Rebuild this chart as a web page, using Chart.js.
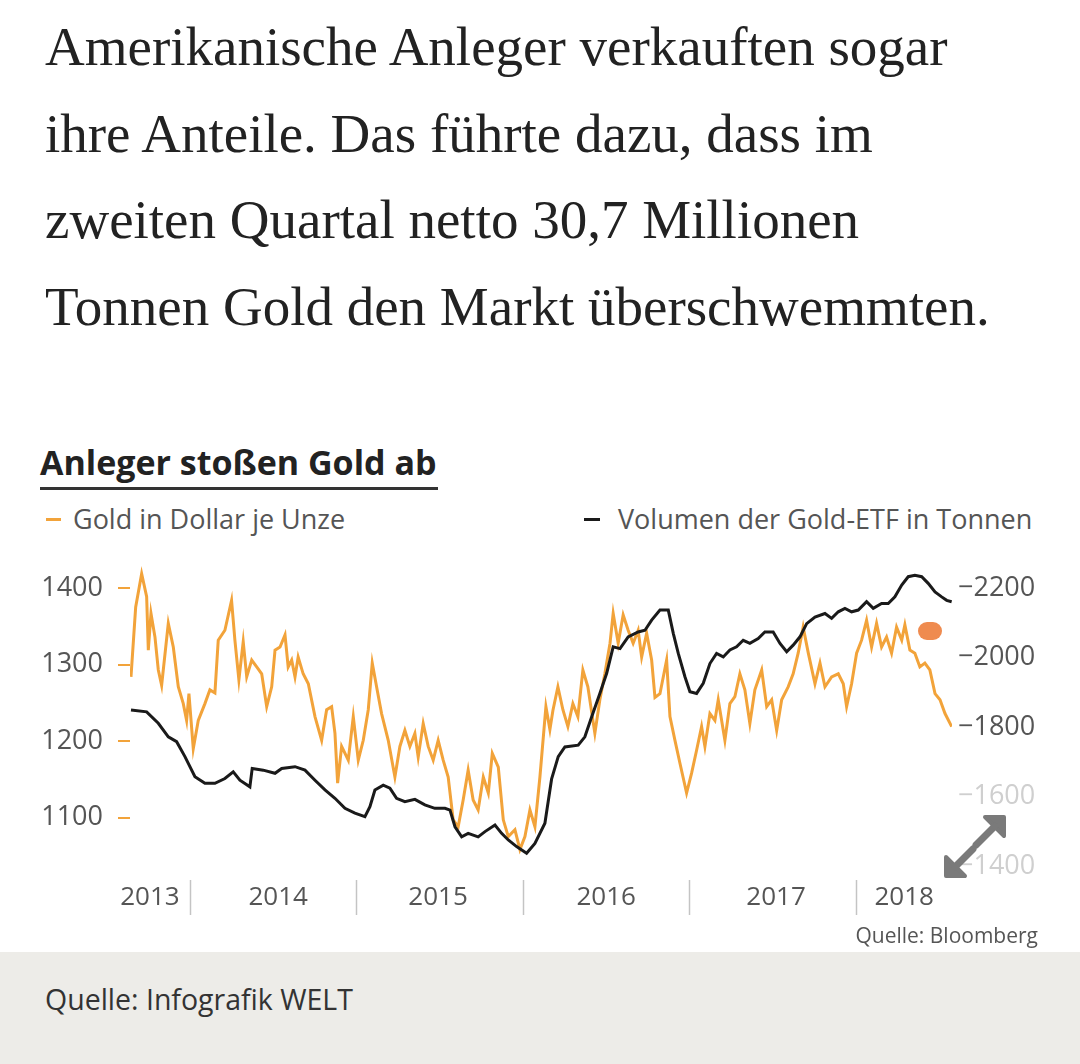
<!DOCTYPE html>
<html lang="de">
<head>
<meta charset="utf-8">
<title>Anleger stoßen Gold ab</title>
<script src="https://cdn.jsdelivr.net/npm/chart.js@4.4.1/dist/chart.umd.min.js"></script>
<style>
  html, body { margin: 0; padding: 0; background: #fff; }
  #page { position: relative; width: 1080px; height: 1064px; overflow: hidden; background: #fff; }
  .abs { position: absolute; white-space: nowrap; }
  #lead { left: 45px; top: 4px; font-family: "Liberation Serif", serif; font-size: 55px; line-height: 86.5px; color: #222; }
  #title { left: 40px; top: 440px; font-family: "Open Sans", sans-serif; font-weight: 700; font-size: 34px; line-height: 44px; color: #222; }
  #rule { left: 40px; top: 487px; width: 398px; height: 3px; background: #333; }
  .leg { top: 504px; font-family: "Open Sans", sans-serif; font-size: 27px; line-height: 30px; color: #555; }
  .leg i { display: inline-block; width: 15px; height: 3px; vertical-align: middle; position: relative; top: -2px; }
  #chartWrap { left: 0; top: 529px; width: 1080px; height: 421px; }
  #src { right: 42px; top: 923px; font-family: "Open Sans", sans-serif; font-size: 21px; line-height: 24px; color: #555; }
  #footer { left: 0; top: 952px; width: 1080px; height: 112px; background: #edece8; }
  #footer span { position: absolute; left: 45px; top: 31px; font-family: "Open Sans", sans-serif; font-size: 28.5px; line-height: 32px; color: #333; }
  #blob { left: 918px; top: 622px; width: 24px; height: 18px; border-radius: 9px; background: #ef8b4f; }
  #expand { left: 940px; top: 810px; }
</style>
</head>
<body>
<div id="page">
  <div id="lead" class="abs">Amerikanische Anleger verkauften sogar<br>ihre Anteile. Das führte dazu, dass im<br>zweiten Quartal netto 30,7 Millionen<br>Tonnen Gold den Markt überschwemmten.</div>

  <div id="title" class="abs">Anleger stoßen Gold ab</div>
  <div id="rule" class="abs"></div>
  <div class="abs leg" style="left:46px"><i style="background:#f2a33a;margin-right:12px"></i>Gold in Dollar je Unze</div>
  <div class="abs leg" style="left:584px"><i style="background:#1a1a1a;width:16px;margin-right:18px"></i>Volumen der Gold-ETF in Tonnen</div>

  <div id="chartWrap" class="abs"><canvas id="chart" width="1080" height="421"></canvas></div>

  <div id="blob" class="abs"></div>
  <svg id="expand" class="abs" width="70" height="72" viewBox="940 810 70 72">
    <g fill="#7a7a7a" stroke="#7a7a7a" stroke-linejoin="round" stroke-linecap="round">
      <polygon points="1004,817 985,817 1004,836" stroke-width="4"/>
      <line x1="995" y1="826" x2="976" y2="845" stroke-width="7"/>
      <polygon points="946,876 946,857 965,876" stroke-width="4"/>
      <line x1="955" y1="867" x2="973" y2="849" stroke-width="7"/>
    </g>
  </svg>

  <div id="src" class="abs">Quelle: Bloomberg</div>
  <div id="footer" class="abs"><span>Quelle: Infografik WELT</span></div>
</div>

<script>
// Goldpreis (Dollar je Unze), Zeit als Dezimaljahr
var GOLD_T = [
  2013.646, 2013.674, 2013.710, 2013.740, 2013.750, 2013.766, 2013.790, 2013.810, 2013.830, 2013.870,
  2013.900, 2013.930, 2013.960, 2013.980, 2013.994, 2014.020, 2014.050, 2014.090, 2014.120, 2014.150,
  2014.170, 2014.210, 2014.250, 2014.270, 2014.294, 2014.320, 2014.341, 2014.371, 2014.401, 2014.431,
  2014.461, 2014.491, 2014.511, 2014.541, 2014.571, 2014.590, 2014.611, 2014.631, 2014.650, 2014.680,
  2014.711, 2014.751, 2014.791, 2014.821, 2014.851, 2014.871, 2014.887, 2014.911, 2014.951, 2014.981,
  2015.011, 2015.041, 2015.071, 2015.095, 2015.121, 2015.151, 2015.191, 2015.231, 2015.261, 2015.291,
  2015.321, 2015.351, 2015.371, 2015.401, 2015.431, 2015.461, 2015.491, 2015.521, 2015.551, 2015.581,
  2015.611, 2015.641, 2015.671, 2015.701, 2015.731, 2015.762, 2015.792, 2015.816, 2015.852, 2015.882,
  2015.912, 2015.952, 2015.982, 2016.012, 2016.042, 2016.072, 2016.102, 2016.138, 2016.162, 2016.180,
  2016.210, 2016.240, 2016.270, 2016.300, 2016.330, 2016.360, 2016.390, 2016.432, 2016.462, 2016.492,
  2016.523, 2016.542, 2016.572, 2016.602, 2016.632, 2016.662, 2016.692, 2016.713, 2016.743, 2016.773,
  2016.793, 2016.823, 2016.863, 2016.883, 2016.913, 2016.943, 2016.983, 2017.013, 2017.043, 2017.073,
  2017.093, 2017.123, 2017.153, 2017.173, 2017.213, 2017.243, 2017.273, 2017.303, 2017.333, 2017.363,
  2017.393, 2017.434, 2017.464, 2017.494, 2017.524, 2017.554, 2017.593, 2017.623, 2017.653, 2017.683,
  2017.714, 2017.754, 2017.784, 2017.814, 2017.854, 2017.894, 2017.924, 2017.944, 2017.974, 2018.004,
  2018.034, 2018.064, 2018.094, 2018.124, 2018.154, 2018.184, 2018.214, 2018.244, 2018.275, 2018.294,
  2018.324, 2018.354, 2018.384, 2018.414, 2018.444, 2018.475, 2018.505, 2018.535, 2018.575
];
var GOLD_USD = [
  1284, 1375, 1419, 1389, 1319, 1367, 1336, 1293, 1273, 1354,
  1323, 1271, 1249, 1227, 1262, 1190, 1227, 1249, 1267, 1263,
  1332, 1345, 1384, 1332, 1280, 1330, 1284, 1306, 1297, 1288,
  1245, 1271, 1319, 1323, 1339, 1297, 1306, 1284, 1310, 1288,
  1275, 1232, 1201, 1241, 1245, 1210, 1145, 1193, 1175, 1232,
  1175, 1201, 1241, 1302, 1271, 1236, 1201, 1153, 1193, 1214,
  1193, 1210, 1179, 1223, 1193, 1175, 1201, 1175, 1153, 1097,
  1088, 1123, 1162, 1123, 1110, 1153, 1132, 1184, 1166, 1097,
  1075, 1084, 1058, 1075, 1110, 1088, 1153, 1245, 1215, 1240,
  1271, 1241, 1219, 1249, 1232, 1293, 1271, 1210, 1254, 1288,
  1328, 1367, 1328, 1365, 1345, 1328, 1345, 1310, 1341, 1306,
  1257, 1262, 1306, 1232, 1201, 1171, 1132, 1158, 1188, 1219,
  1193, 1236, 1227, 1254, 1201, 1249, 1258, 1288, 1267, 1223,
  1267, 1293, 1245, 1254, 1214, 1254, 1271, 1288, 1315, 1349,
  1315, 1275, 1302, 1271, 1284, 1288, 1275, 1245, 1275, 1315,
  1332, 1358, 1323, 1354, 1323, 1336, 1315, 1349, 1332, 1352,
  1319, 1315, 1297, 1302, 1293, 1262, 1254, 1236, 1219
];

// Volumen der Gold-ETF (Tonnen)
var ETF_T = [
  2013.646, 2013.740, 2013.810, 2013.870, 2013.920, 2013.970, 2014.030, 2014.090, 2014.150, 2014.210,
  2014.260, 2014.300, 2014.360, 2014.374, 2014.440, 2014.511, 2014.551, 2014.631, 2014.691, 2014.751,
  2014.811, 2014.871, 2014.931, 2014.991, 2015.051, 2015.081, 2015.111, 2015.161, 2015.201, 2015.241,
  2015.291, 2015.351, 2015.411, 2015.471, 2015.532, 2015.562, 2015.592, 2015.632, 2015.671, 2015.731,
  2015.772, 2015.832, 2015.872, 2015.912, 2015.962, 2016.022, 2016.072, 2016.132, 2016.172, 2016.212,
  2016.252, 2016.332, 2016.372, 2016.413, 2016.462, 2016.503, 2016.542, 2016.583, 2016.632, 2016.692,
  2016.733, 2016.773, 2016.823, 2016.873, 2016.903, 2016.933, 2016.973, 2017.003, 2017.043, 2017.083,
  2017.123, 2017.163, 2017.203, 2017.243, 2017.283, 2017.323, 2017.363, 2017.413, 2017.453, 2017.503,
  2017.544, 2017.584, 2017.623, 2017.664, 2017.704, 2017.754, 2017.814, 2017.854, 2017.894, 2017.934,
  2017.974, 2018.014, 2018.064, 2018.104, 2018.154, 2018.194, 2018.234, 2018.275, 2018.314, 2018.354,
  2018.395, 2018.434, 2018.475, 2018.515, 2018.545, 2018.575
];
var ETF_TONNES = [
  1849, 1844, 1811, 1772, 1758, 1715, 1657, 1638, 1638, 1652,
  1671, 1647, 1628, 1681, 1676, 1667, 1681, 1686, 1676, 1647,
  1619, 1595, 1566, 1552, 1542, 1571, 1619, 1633, 1624, 1595,
  1585, 1592, 1576, 1566, 1566, 1561, 1513, 1484, 1494, 1484,
  1499, 1518, 1494, 1475, 1456, 1437, 1465, 1523, 1650, 1715,
  1743, 1748, 1772, 1830, 1897, 1955, 2031, 2026, 2060, 2074,
  2079, 2108, 2137, 2137, 2070, 2012, 1945, 1902, 1897, 1926,
  1983, 2012, 2002, 2022, 2031, 2050, 2041, 2055, 2074, 2074,
  2041, 2017, 2036, 2060, 2098, 2117, 2127, 2113, 2132, 2142,
  2132, 2137, 2161, 2142, 2156, 2156, 2175, 2209, 2233, 2237,
  2233, 2214, 2189, 2175, 2165, 2161
];

// Achsen
var YEAR_LABELS = ['2013', '2014', '2015', '2016', '2017', '2018'];
var YEAR_LABEL_POS = [2013.76, 2014.53, 2015.49, 2016.50, 2017.52, 2018.29];
var YEAR_BREAKS = [2014, 2015, 2016, 2017, 2018];
var GOLD_TICKS = [1100, 1200, 1300, 1400];
var ETF_TICKS = [1400, 1600, 1800, 2000, 2200];

var GOLD_COLOR = '#f2a33a';
var ETF_COLOR = '#1a1a1a';
var X_FONT = { family: '"Open Sans", sans-serif', size: 26 };
var Y_FONT = { family: '"Open Sans", sans-serif', size: 27 };

function points(ts, vs) {
  return ts.map(function (t, i) { return { x: t, y: vs[i] }; });
}

// kurze graue Trennstriche zwischen den Jahren, unterhalb der Grafik
var yearSeparators = {
  id: 'yearSeparators',
  afterDraw: function (chart) {
    var xs = chart.scales.x;
    var ctx = chart.ctx;
    var top = chart.chartArea.bottom + 14;
    ctx.save();
    ctx.strokeStyle = '#c4c4c4';
    ctx.lineWidth = 1.5;
    YEAR_BREAKS.forEach(function (yr) {
      var px = Math.round(xs.getPixelForValue(yr)) + 0.5;
      ctx.beginPath();
      ctx.moveTo(px, top);
      ctx.lineTo(px, top + 35);
      ctx.stroke();
    });
    ctx.restore();
  }
};

new Chart(document.getElementById('chart'), {
  type: 'line',
  data: {
    datasets: [
      {
        label: 'Gold in Dollar je Unze',
        data: points(GOLD_T, GOLD_USD),
        yAxisID: 'yGold',
        borderColor: GOLD_COLOR,
        borderWidth: 3,
        pointRadius: 0,
        tension: 0,
        order: 1
      },
      {
        label: 'Volumen der Gold-ETF in Tonnen',
        data: points(ETF_T, ETF_TONNES),
        yAxisID: 'yEtf',
        borderColor: ETF_COLOR,
        borderWidth: 3,
        pointRadius: 0,
        tension: 0,
        order: 0
      }
    ]
  },
  options: {
    responsive: false,
    animation: false,
    devicePixelRatio: 1,
    layout: { padding: 0 },
    plugins: { legend: { display: false }, tooltip: { enabled: false } },
    scales: {
      x: {
        type: 'linear',
        min: 2013.64,
        max: 2018.577,
        grid: { display: false, drawTicks: false },
        border: { display: false },
        afterBuildTicks: function (s) { s.ticks = YEAR_LABEL_POS.map(function (v) { return { value: v }; }); },
        afterFit: function (s) { s.height = 84; },
        ticks: {
          autoSkip: false,
          maxRotation: 0,
          padding: 16,
          color: '#555',
          font: X_FONT,
          callback: function (v, i) { return YEAR_LABELS[i]; }
        }
      },
      yGold: {
        position: 'left',
        min: 1036.6,
        max: 1436.6,
        grid: { drawOnChartArea: false, drawTicks: true, tickLength: 12, color: GOLD_COLOR, lineWidth: 2 },
        border: { display: false },
        afterBuildTicks: function (s) { s.ticks = GOLD_TICKS.map(function (v) { return { value: v }; }); },
        afterFit: function (s) { s.width = 130; },
        ticks: { padding: 15, color: '#555', font: Y_FONT, callback: function (v) { return String(v); } }
      },
      yEtf: {
        position: 'right',
        min: 1400,
        max: 2280.6,
        grid: { display: false, drawTicks: false },
        border: { display: false },
        afterBuildTicks: function (s) { s.ticks = ETF_TICKS.map(function (v) { return { value: v }; }); },
        afterFit: function (s) { s.width = 128; },
        ticks: {
          padding: 6,
          font: Y_FONT,
          color: function (c) { return c.tick && c.tick.value < 1800 ? '#cfcfcf' : '#555'; },
          callback: function (v) { return '\u2212' + v; }
        }
      }
    }
  },
  plugins: [yearSeparators]
});
</script>
</body>
</html>
